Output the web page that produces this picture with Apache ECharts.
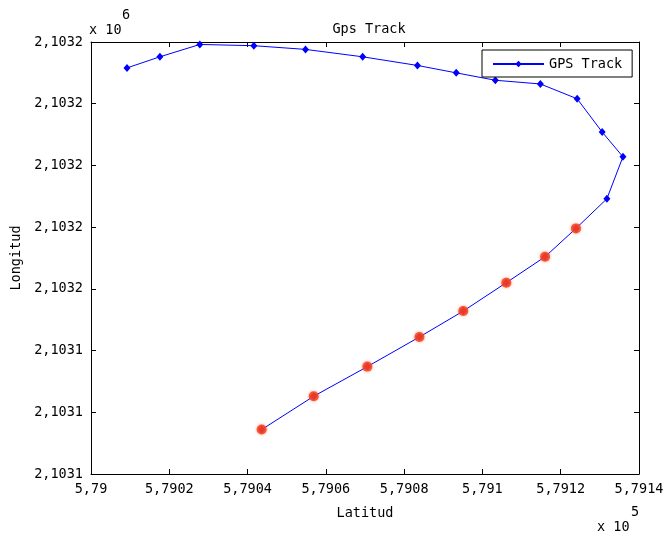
<!DOCTYPE html>
<html>
<head>
<meta charset="utf-8">
<script src="https://cdn.jsdelivr.net/npm/echarts@6/dist/echarts.min.js"></script>
<style>
  html, body { margin: 0; padding: 0; background: #fff; }
  #chart { width: 664px; height: 537px; }
</style>
</head>
<body>
<div id="chart"></div>
<script>
// track points (latitud raw, longitud raw)
const latitud = [
  579009.2, 579017.6, 579027.8, 579041.6, 579054.8, 579069.4, 579083.4, 579093.3,
  579103.3, 579114.8, 579124.2, 579130.6, 579135.9, 579131.8,
  579123.9, 579116.0, 579106.1, 579095.1, 579083.9, 579070.6, 579056.9, 579043.6
];
const longitud = [
  2103167.9, 2103168.8, 2103169.8, 2103169.7, 2103169.4, 2103168.8, 2103168.1, 2103167.5,
  2103166.9, 2103166.6, 2103165.4, 2103162.7, 2103160.7, 2103157.3,
  2103154.9, 2103152.6, 2103150.5, 2103148.2, 2103146.1, 2103143.7, 2103141.3, 2103138.6
];
// index from which the points are marked red
const redFrom = 14;

const xTicks = { min: 579000, max: 579140, step: 20 };
const yTicks = { min: 2103135, max: 2103170, step: 5 };

const font = 'DejaVu Sans Mono';
const trackData = latitud.map((x, i) => [x, longitud[i]]);
const redData = trackData.slice(redFrom);

const xFmt = v => parseFloat((v / 1e5).toFixed(4)).toString().replace('.', ',');
const yFmt = v => (Math.round(v / 100) / 1e4).toFixed(4).replace('.', ',');

const axisCommon = {
  type: 'value',
  axisLine: { show: true, lineStyle: { color: '#000', width: 1 } },
  axisTick: { show: true, inside: true, length: 5, lineStyle: { color: '#000' } },
  splitLine: { show: false },
};

const chart = echarts.init(document.getElementById('chart'));
chart.setOption({
  backgroundColor: '#fff',
  animation: false,
  title: {
    text: 'Gps Track',
    left: 364, top: 17, textAlign: 'center',
    textStyle: { fontFamily: font, fontSize: 13.5, fontWeight: 'normal', color: '#000' }
  },
  grid: { left: 91, right: 25, top: 42, bottom: 63, outerBoundsMode: 'none' },
  legend: {
    data: ['GPS Track'],
    left: 482, top: 50,
    backgroundColor: '#fff',
    borderColor: '#000', borderWidth: 1,
    padding: [7, 10, 6, 10],
    itemWidth: 51, itemHeight: 8,
    textStyle: { fontFamily: font, fontSize: 13.5, color: '#000' }
  },
  xAxis: [
    Object.assign({}, axisCommon, {
      min: xTicks.min, max: xTicks.max, interval: xTicks.step,
      name: 'Latitud', nameLocation: 'middle', nameGap: 32,
      nameTextStyle: { fontFamily: font, fontSize: 13.5, color: '#000' },
      axisLabel: { formatter: xFmt, margin: 8, fontFamily: font, fontSize: 13.5, color: '#000' }
    }),
    Object.assign({}, axisCommon, {
      position: 'top',
      min: xTicks.min, max: xTicks.max, interval: xTicks.step,
      axisLabel: { show: false }
    })
  ],
  yAxis: [
    Object.assign({}, axisCommon, {
      min: yTicks.min, max: yTicks.max, interval: yTicks.step,
      name: 'Longitud', nameLocation: 'middle', nameGap: 66,
      nameTextStyle: { fontFamily: font, fontSize: 13.5, color: '#000' },
      axisLabel: { formatter: yFmt, margin: 8, fontFamily: font, fontSize: 13.5, color: '#000' }
    }),
    Object.assign({}, axisCommon, {
      position: 'right',
      min: yTicks.min, max: yTicks.max, interval: yTicks.step,
      axisLabel: { show: false }
    })
  ],
  graphic: [
    { type: 'text', left: 89, top: 23, style: { text: 'x 10', font: '13.5px "DejaVu Sans Mono"', fill: '#000' } },
    { type: 'text', left: 122, top: 8, style: { text: '6', font: '13.5px "DejaVu Sans Mono"', fill: '#000' } },
    { type: 'text', left: 597, top: 520, style: { text: 'x 10', font: '13.5px "DejaVu Sans Mono"', fill: '#000' } },
    { type: 'text', left: 631, top: 505, style: { text: '5', font: '13.5px "DejaVu Sans Mono"', fill: '#000' } }
  ],
  series: [
    {
      name: 'GPS Track',
      type: 'line',
      xAxisIndex: 0, yAxisIndex: 0,
      data: trackData,
      symbol: 'diamond', symbolSize: [7, 8],
      lineStyle: { color: '#0000ff', width: 1 },
      itemStyle: { color: '#0000ff' },
      z: 2
    },
    {
      name: 'red',
      type: 'scatter',
      xAxisIndex: 0, yAxisIndex: 0,
      data: redData,
      symbol: 'circle', symbolSize: 10,
      itemStyle: { color: '#f5381a', shadowColor: 'rgba(255,110,50,0.8)', shadowBlur: 3 },
      z: 3
    }
  ]
});
</script>
</body>
</html>
